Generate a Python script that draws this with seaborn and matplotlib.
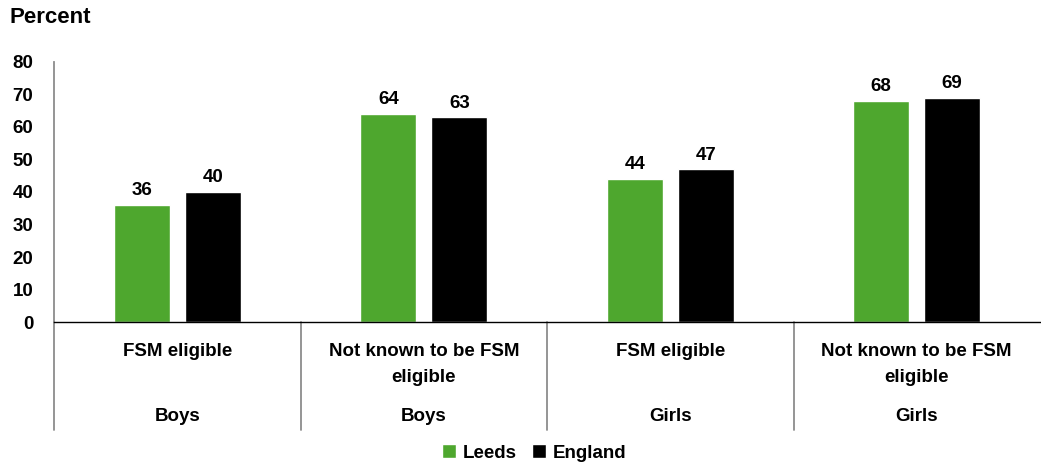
import matplotlib
matplotlib.use('Agg')
import matplotlib.pyplot as plt
import matplotlib.transforms as mtransforms
from matplotlib.patches import Patch
import seaborn as sns
import pandas as pd

# chart data
groups = ['Boys', 'Boys', 'Girls', 'Girls']
subgroups = ['FSM eligible', 'Not known to be FSM\neligible',
             'FSM eligible', 'Not known to be FSM\neligible']
leeds = [36, 64, 44, 68]
england = [40, 63, 47, 69]
series = ['Leeds', 'England']
colours = {'Leeds': '#4EA72E', 'England': '#000000'}

sns.set_style('white')
plt.rcParams['font.family'] = ['Liberation Sans', 'DejaVu Sans']
plt.rcParams['font.weight'] = 'bold'
plt.rcParams['text.color'] = 'black'
plt.rcParams['ytick.color'] = 'black'
plt.rcParams['xtick.color'] = 'black'
FS = 13.5

keys = [f'{g}|{s}' for g, s in zip(groups, subgroups)]
df = pd.DataFrame({
    'key': keys * 2,
    'series': ['Leeds'] * 4 + ['England'] * 4,
    'value': leeds + england,
})

fig = plt.figure(figsize=(10.41, 4.65), dpi=100)
ax = fig.add_axes([0.052, 0.3075, 0.947, 0.5592])

sns.barplot(data=df, x='key', y='value', hue='series', hue_order=series,
            palette=colours, width=0.576, gap=0.21, saturation=1,
            legend=False, ax=ax)

# value labels
for cont in ax.containers:
    ax.bar_label(cont, padding=4, fontsize=FS, fontweight='bold', color='black')

ax.set_ylim(0, 80)
ax.set_yticks(range(0, 81, 10))
ax.tick_params(axis='y', length=0, labelsize=FS, pad=15)
for lab in ax.get_yticklabels():
    lab.set_fontweight('bold')
ax.set_xticks([])
ax.set_xlabel('')
ax.set_ylabel('')
ax.set_xlim(-0.5, 3.5)

for s in ['top', 'right']:
    ax.spines[s].set_visible(False)
ax.spines['left'].set_color('#8c8c8c')
ax.spines['left'].set_linewidth(1.3)
ax.spines['bottom'].set_color('#000000')
ax.spines['bottom'].set_linewidth(1.0)

# two-level category axis
trans = mtransforms.blended_transform_factory(ax.transData, ax.transAxes)
for i, (g, s) in enumerate(zip(groups, subgroups)):
    ax.text(i, -0.082, s, transform=trans, ha='center', va='top',
            fontsize=FS, fontweight='bold', linespacing=1.7)
    ax.text(i, -0.33, g, transform=trans, ha='center', va='top',
            fontsize=FS, fontweight='bold')
for x in [-0.5, 0.5, 1.5, 2.5]:
    ax.plot([x, x], [0, -0.415], transform=trans, color='#8c8c8c',
            lw=1.3, clip_on=False)

fig.text(0.009, 0.984, 'Percent', ha='left', va='top',
         fontsize=16, fontweight='bold')

handles = [Patch(facecolor=colours[s], label=s) for s in series]
fig.legend(handles=handles, loc='center', bbox_to_anchor=(0.513, 0.026),
           ncol=2, frameon=False, handlelength=0.75,
           handleheight=0.75, handletextpad=0.35, columnspacing=0.8,
           prop={'weight': 'bold', 'size': FS})

fig.savefig('out.png', dpi=100, facecolor='white')
